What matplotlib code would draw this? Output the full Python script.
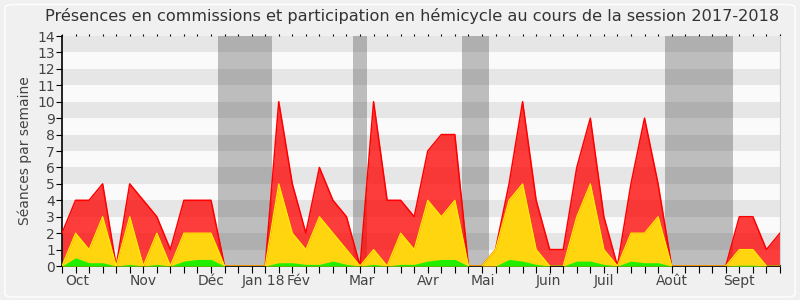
import matplotlib
matplotlib.use("Agg")
import matplotlib.pyplot as plt
import numpy as np
from matplotlib.patches import FancyBboxPatch

# weekly values, session 2017-2018 (54 weeks)
hemicycle = [2, 4, 4, 5, 0, 5, 4, 3, 1, 4, 4, 4, 0, 0, 0, 0, 10, 5, 2, 6,
             4, 3, 0, 10, 4, 4, 3, 7, 8, 8, 0, 0, 1, 5, 10, 4, 1, 1, 6, 9,
             3, 0, 5, 9, 5, 0, 0, 0, 0, 0, 3, 3, 1, 2]
commission = [0, 2, 1, 3, 0, 3, 0, 2, 0, 2, 2, 2, 0, 0, 0, 0, 5, 2, 1, 3,
              2, 1, 0, 1, 0, 2, 1, 4, 3, 4, 0, 0, 1, 4, 5, 1, 0, 0, 3, 5,
              1, 0, 2, 2, 3, 0, 0, 0, 0, 0, 1, 1, 0, 0]
other = [0, 0.5, 0.2, 0.2, 0, 0.1, 0, 0.1, 0, 0.3, 0.4, 0.4, 0, 0, 0, 0, 0.2, 0.2, 0.1, 0.1,
         0.3, 0.1, 0, 0.1, 0, 0.1, 0.1, 0.3, 0.4, 0.4, 0, 0, 0, 0.4, 0.3, 0.1, 0, 0, 0.3, 0.3,
         0.1, 0, 0.3, 0.2, 0.2, 0, 0, 0, 0, 0, 0.05, 0.05, 0, 0]

# parliamentary breaks (week index ranges)
vacances = [(11.5, 15.5), (21.5, 22.5), (29.5, 31.5), (44.5, 49.5)]

month_labels = ["Oct", "Nov", "Déc", "Jan 18", "Fév", "Mar", "Avr", "Mai",
                "Juin", "Juil", "Août", "Sept"]
month_pos = [1.1, 6.0, 11.0, 14.9, 17.5, 22.1, 27.0, 31.1, 35.9, 40.0, 45.0, 50.0]

weeks = np.arange(len(hemicycle))
txt = "#444444"

fig = plt.figure(figsize=(8, 3), dpi=100)
fig.patch.set_facecolor("#f0f0f0")
fig.patches.append(FancyBboxPatch((0.006, 0.01), 0.988, 0.975,
                                  boxstyle="round,pad=0,rounding_size=0.012",
                                  transform=fig.transFigure, facecolor="#f0f0f0",
                                  edgecolor="#fcfcfc", linewidth=1.2, zorder=-1))

ax = fig.add_axes([0.0775, 0.1133, 0.8975, 0.7667])
ax.set_facecolor("#fafafa")

for k in range(1, 14, 2):
    ax.axhspan(k, k + 1, color="#e6e6e6", lw=0, zorder=0)

for a, b in vacances:
    ax.axvspan(a, b, color="#323232", alpha=0.3, lw=0, zorder=1)

ax.fill_between(weeks, 0, hemicycle, color="#ff0000", alpha=0.76, lw=0, zorder=2)
ax.plot(weeks, hemicycle, color="#ff0000", lw=1.1, zorder=3)
ax.fill_between(weeks, 0, commission, color="#ffd50f", lw=0, zorder=4)
ax.plot(weeks, commission, color="#ffee00", lw=0.9, zorder=5)
ax.fill_between(weeks, 0, other, color="#22ee00", lw=0, zorder=6)

ax.set_xlim(0, 53)
ax.set_ylim(0, 14)
ax.set_yticks(range(15))
ax.tick_params(axis="y", labelsize=10, colors=txt, length=4, pad=1)
ax.tick_params(axis="y", color="black")

ax.set_xticks(weeks)
ax.set_xticklabels([])
ax.tick_params(axis="x", length=5, color="black", top=True, bottom=True)
for t in ax.xaxis.get_major_ticks():
    t.tick2line.set_markersize(1.5)
    t.tick2line.set_color("#222222")
for p, lab in zip(month_pos, month_labels):
    ax.text(p, -0.5, lab, ha="center", va="top", fontsize=10, color=txt,
            transform=ax.transData)

ax.spines["top"].set_visible(False)
ax.spines["right"].set_color("#d0d0d0")
ax.spines["left"].set_linewidth(1.2)
ax.spines["bottom"].set_linewidth(1.2)

ax.set_ylabel("Séances par semaine", fontsize=10, color=txt, labelpad=4)
fig.text(0.515, 0.945, "Présences en commissions et participation en hémicycle au cours de la session 2017-2018",
         ha="center", va="center", fontsize=11.6, color="#333333")

fig.savefig("out.png", dpi=100, facecolor=fig.get_facecolor())
